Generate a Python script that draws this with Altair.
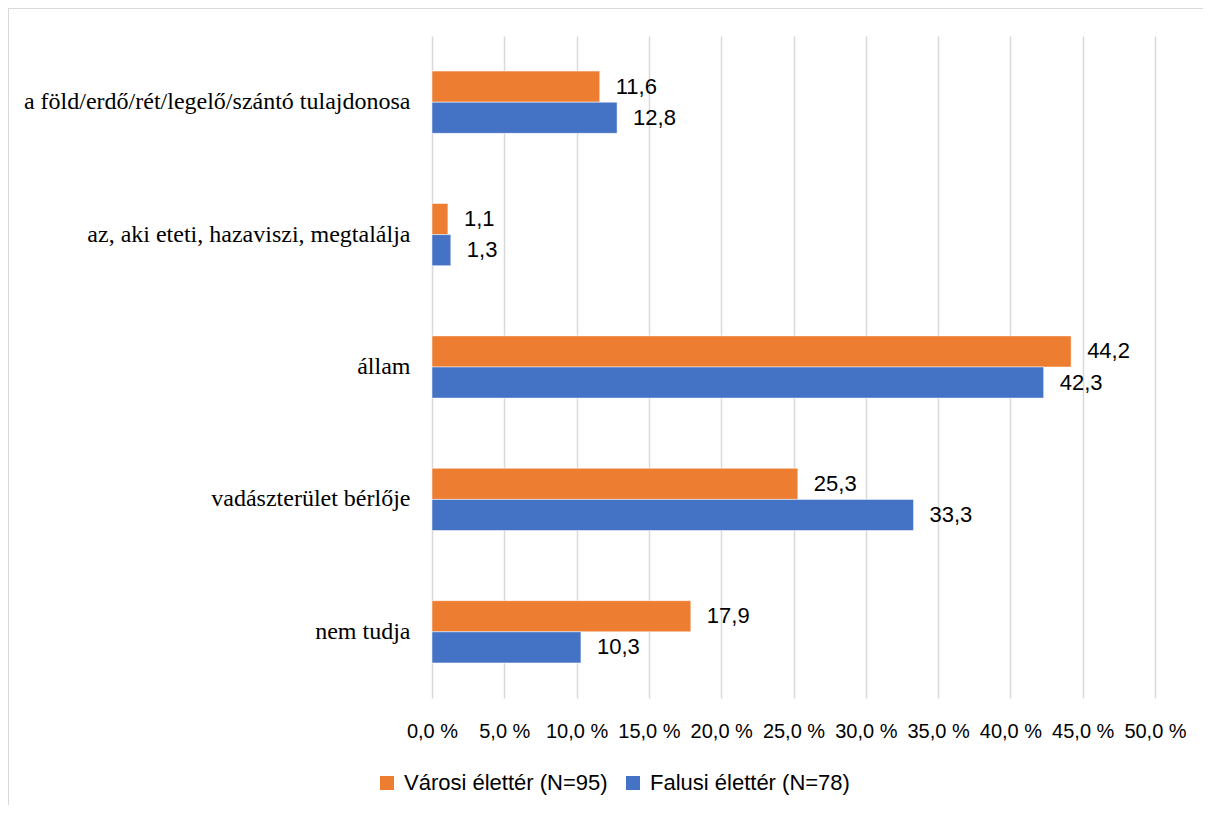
import altair as alt
import pandas as pd

categories = [
    "a föld/erdő/rét/legelő/szántó tulajdonosa",
    "az, aki eteti, hazaviszi, megtalálja",
    "állam",
    "vadászterület bérlője",
    "nem tudja",
]
series_names = ["Városi élettér (N=95)", "Falusi élettér (N=78)"]
varosi = [11.6, 1.1, 44.2, 25.3, 17.9]
falusi = [12.8, 1.3, 42.3, 33.3, 10.3]
x_ticks = [0, 5, 10, 15, 20, 25, 30, 35, 40, 45, 50]
colors = ["#ED7D31", "#4472C4"]

rows = []
for c, v, f in zip(categories, varosi, falusi):
    rows.append({"cat": c, "series": series_names[0], "value": v})
    rows.append({"cat": c, "series": series_names[1], "value": f})
df = pd.DataFrame(rows)

W, H = 723, 662

y_enc = alt.Y(
    "cat:N",
    sort=categories,
    scale=alt.Scale(paddingInner=0.53, paddingOuter=0.265),
    axis=alt.Axis(
        title=None, domain=False, ticks=False, grid=False,
        labelFont="Liberation Serif", labelFontSize=24, labelColor="#000000",
        labelPadding=22, labelLimit=0,
    ),
)
x_enc = alt.X(
    "value:Q",
    scale=alt.Scale(domain=[0, 50], nice=False),
    axis=alt.Axis(
        title=None, values=x_ticks, domain=False, ticks=False,
        grid=True, gridColor="#d9d9d9", gridWidth=1.5,
        labelFont="Liberation Sans", labelFontSize=20, labelColor="#000000",
        labelPadding=23, labelOverlap=False, labelFlush=False,
        labelExpr="replace(format(datum.value, '.1f'), '.', ',') + ' %'",
    ),
)
yoff = alt.YOffset("series:N", sort=series_names, scale=alt.Scale(domain=series_names))
color = alt.Color(
    "series:N",
    scale=alt.Scale(domain=series_names, range=colors),
    legend=alt.Legend(
        title=None, orient="none", legendX=-56, legendY=736,
        direction="horizontal", symbolType="square", symbolSize=196,
        symbolStrokeWidth=0, labelFont="Liberation Sans", labelFontSize=22,
        labelColor="#000000", columnPadding=14, labelOffset=6, labelLimit=0,
    ),
)

base = alt.Chart(df)
bars = base.mark_bar(stroke="white", strokeWidth=0.5).encode(
    x=x_enc, y=y_enc, yOffset=yoff, color=color
)
labels = base.transform_calculate(
    lab="replace(format(datum.value, '.1f'), '.', ',')"
).mark_text(
    align="left", baseline="middle", dx=16, fontSize=22,
    font="Liberation Sans", color="#000000",
).encode(x="value:Q", y=alt.Y("cat:N", sort=categories), yOffset=yoff, text="lab:N")

frame = alt.Chart(pd.DataFrame({"k": [0]})).mark_rect(
    fill=None, stroke="#d9d9d9", strokeWidth=2, clip=False
).encode(
    x=alt.value(-424), x2=alt.value(W + 200),
    y=alt.value(-28), y2=alt.value(H + 300),
)

chart = alt.layer(frame, bars, labels).properties(
    width=W, height=H,
    autosize=alt.AutoSizeParams(type="none"),
    padding={"left": 424, "top": 28, "right": 48, "bottom": 107},
).configure_view(stroke=None)

chart.save("out.html", embed_options={"renderer": "svg", "actions": False})
